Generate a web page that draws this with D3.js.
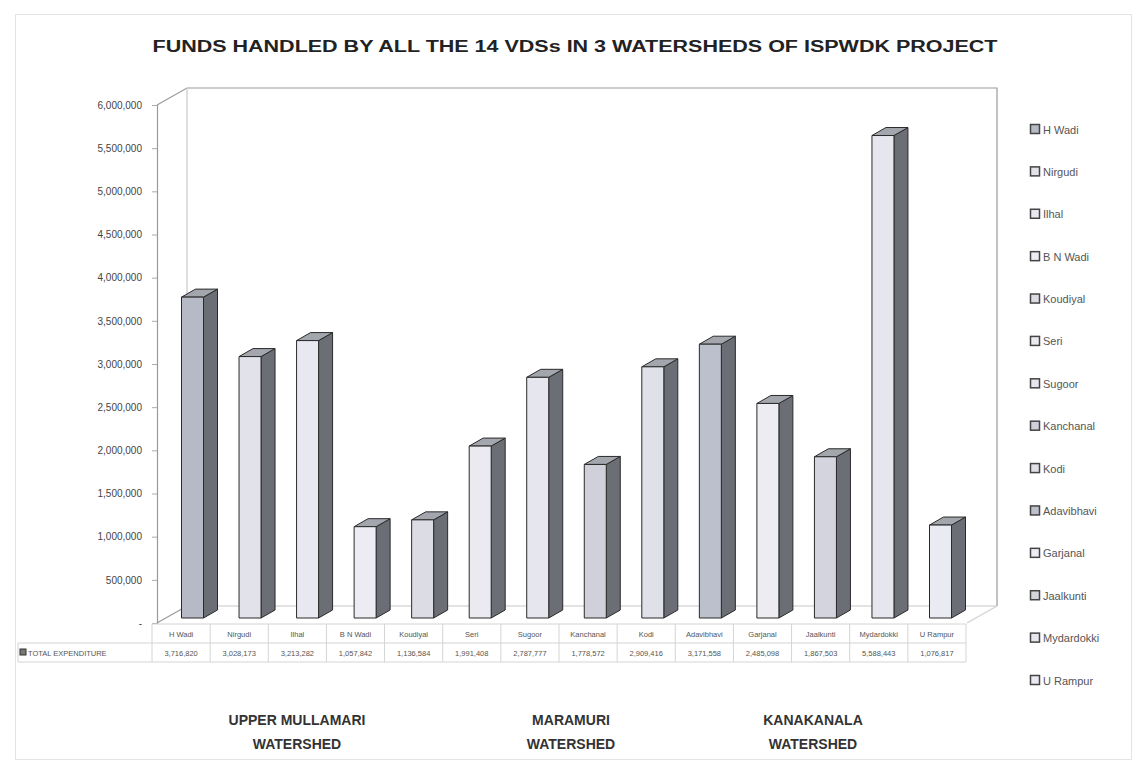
<!DOCTYPE html>
<html><head><meta charset="utf-8">
<script src="https://cdn.jsdelivr.net/npm/d3@7/dist/d3.min.js"></script>
<style>body{margin:0;background:#fff}svg{display:block}</style>
</head><body><svg id="c" width="1145" height="764"></svg>
<script>
const categories = ["H Wadi","Nirgudi","Ilhal","B N Wadi","Koudiyal","Seri","Sugoor","Kanchanal","Kodi","Adavibhavi","Garjanal","Jaalkunti","Mydardokki","U Rampur"];
const values = [3716820,3028173,3213282,1057842,1136584,1991408,2787777,1778572,2909416,3171558,2485098,1867503,5588443,1076817];
const faceColors = ["#b6bac6","#e2e2ea","#e8e8f0","#ececf2","#dcdce4","#eaeaf0","#e6e6ee","#d0d0da","#e0e0e8","#bcc0cc","#ececf2","#d4d4de","#e6e6ee","#eaeaf2"];
const yTicks = [0,500000,1000000,1500000,2000000,2500000,3000000,3500000,4000000,4500000,5000000,5500000,6000000];
const watersheds = [["UPPER MULLAMARI","WATERSHED"],["MARAMURI","WATERSHED"],["KANAKANALA","WATERSHED"]];
const watershedCenters = [297,571,813];
const title = "FUNDS HANDLED BY ALL THE 14 VDSs IN 3 WATERSHEDS OF ISPWDK PROJECT";
const rowLabel = "TOTAL EXPENDITURE";

const svg = d3.select("#c");
const font = "'Liberation Sans', Arial, sans-serif";

// outer frame
svg.append("rect").attr("x",15.5).attr("y",14.5).attr("width",1116).attr("height",745)
  .attr("fill","none").attr("stroke","#e4e4e4");

svg.append("text").attr("x",575).attr("y",52).attr("text-anchor","middle")
  .attr("font-family",font).attr("font-weight","bold").attr("font-size",16)
  .attr("textLength",845).attr("lengthAdjust","spacingAndGlyphs")
  .attr("fill","#222").text(title);

const y = d3.scaleLinear().domain([0,6000000]).range([623,105]);
const fx0 = 157, dX = 30, dY = -17, fx1 = 967;

// walls
const wall = svg.append("g").attr("fill","none").attr("stroke","#9a9a9a").attr("stroke-width",1.2);
wall.append("path").attr("d",`M${fx0},${y(6000000)} L${fx0+dX},${y(6000000)+dY} L${fx1+dX},${y(6000000)+dY} L${fx1+dX},${y(0)+dY}`);
wall.append("path").attr("d",`M${fx0+dX},${y(6000000)+dY} L${fx0+dX},${y(0)+dY} L${fx1+dX},${y(0)+dY}`).attr("stroke","#c8c8c8");
wall.append("path").attr("d",`M${fx0},${y(0)} L${fx0+dX},${y(0)+dY}`);
wall.append("path").attr("d",`M${fx1},${y(0)} L${fx1+dX},${y(0)+dY}`).attr("stroke","#d0d0d0");

// axis
const axis = d3.axisLeft(y).tickValues(yTicks).tickSize(5).tickPadding(10)
  .tickFormat(d => d === 0 ? "-" : d3.format(",")(d));
const ag = svg.append("g").attr("transform",`translate(${fx0},0)`).call(axis);
ag.select(".domain").attr("stroke","#9a9a9a").attr("stroke-width",1.2);
ag.selectAll(".tick line").attr("stroke","#aaa");
ag.selectAll(".tick text").attr("font-family",font).attr("font-size",10).attr("fill","#444");

// bars
const xb = d3.scalePoint().domain(categories).range([192.5,940.5]);
const bw = 22, bdx = 14, bdy = -8, off = -5;
const bars = svg.append("g").attr("stroke","#2a2a2a").attr("stroke-width",1).attr("stroke-linejoin","round");
categories.forEach((c,i) => {
  const xl = xb(c) - bw/2, xr = xl + bw;
  const yt = y(values[i]) + off, yb = y(0) + off;
  bars.append("path").attr("fill","#6b6e74")
    .attr("d",`M${xr},${yt} L${xr+bdx},${yt+bdy} L${xr+bdx},${yb+bdy} L${xr},${yb} Z`);
  bars.append("path").attr("fill","#a4a6ae")
    .attr("d",`M${xl},${yt} L${xl+bdx},${yt+bdy} L${xr+bdx},${yt+bdy} L${xr},${yt} Z`);
  bars.append("rect").attr("x",xl).attr("y",yt).attr("width",bw).attr("height",yb-yt).attr("fill",faceColors[i]);
});

// data table
const xt = d3.scaleBand().domain(categories).range([152,966]);
const t = svg.append("g");
const r0 = 624, r1 = 643, r2 = 662;
t.append("path").attr("fill","none").attr("stroke","#d4d4d4")
  .attr("d",`M152,${r0} L966,${r0} M18,${r1} L966,${r1} M18,${r2} L966,${r2} M18,${r1} L18,${r2} M966,${r0} L966,${r2}`);
t.selectAll("line.v").data(categories).join("line")
  .attr("x1",d=>xt(d)).attr("x2",d=>xt(d)).attr("y1",r0).attr("y2",r2).attr("stroke","#d4d4d4");
t.selectAll("text.n").data(categories).join("text")
  .attr("x",d=>xt(d)+xt.bandwidth()/2).attr("y",r0+12.5).attr("text-anchor","middle")
  .attr("font-family",font).attr("font-size",7.5).attr("fill","#555").text(d=>d);
t.selectAll("text.v").data(values).join("text")
  .attr("x",(d,i)=>xt(categories[i])+xt.bandwidth()/2).attr("y",r1+12.5).attr("text-anchor","middle")
  .attr("font-family",font).attr("font-size",7.5).attr("fill","#555").text(d=>d3.format(",")(d));
t.append("rect").attr("x",20).attr("y",r1+6).attr("width",6).attr("height",6).attr("fill","#777").attr("stroke","#333");
t.append("text").attr("x",28).attr("y",r1+12.5).attr("font-family",font).attr("font-size",7.5).attr("fill","#555").text(rowLabel);

// legend
const ly = d3.scalePoint().domain(categories).range([130,681]);
const lg = svg.append("g");
categories.forEach((c,i) => {
  lg.append("rect").attr("x",1030.5).attr("y",ly(c)-5.5).attr("width",9).attr("height",9)
    .attr("fill",faceColors[i]).attr("stroke","#444").attr("stroke-width",1.5);
  lg.append("text").attr("x",1043).attr("y",ly(c)+3.5).attr("font-family",font).attr("font-size",11)
    .attr("fill","#555").text(c);
});

// watershed labels
watersheds.forEach((w,i) => {
  w.forEach((line,j) => {
    svg.append("text").attr("x",watershedCenters[i]).attr("y",725+j*24).attr("text-anchor","middle")
      .attr("font-family",font).attr("font-weight","bold").attr("font-size",14).attr("fill","#333").text(line);
  });
});
</script></body></html>
